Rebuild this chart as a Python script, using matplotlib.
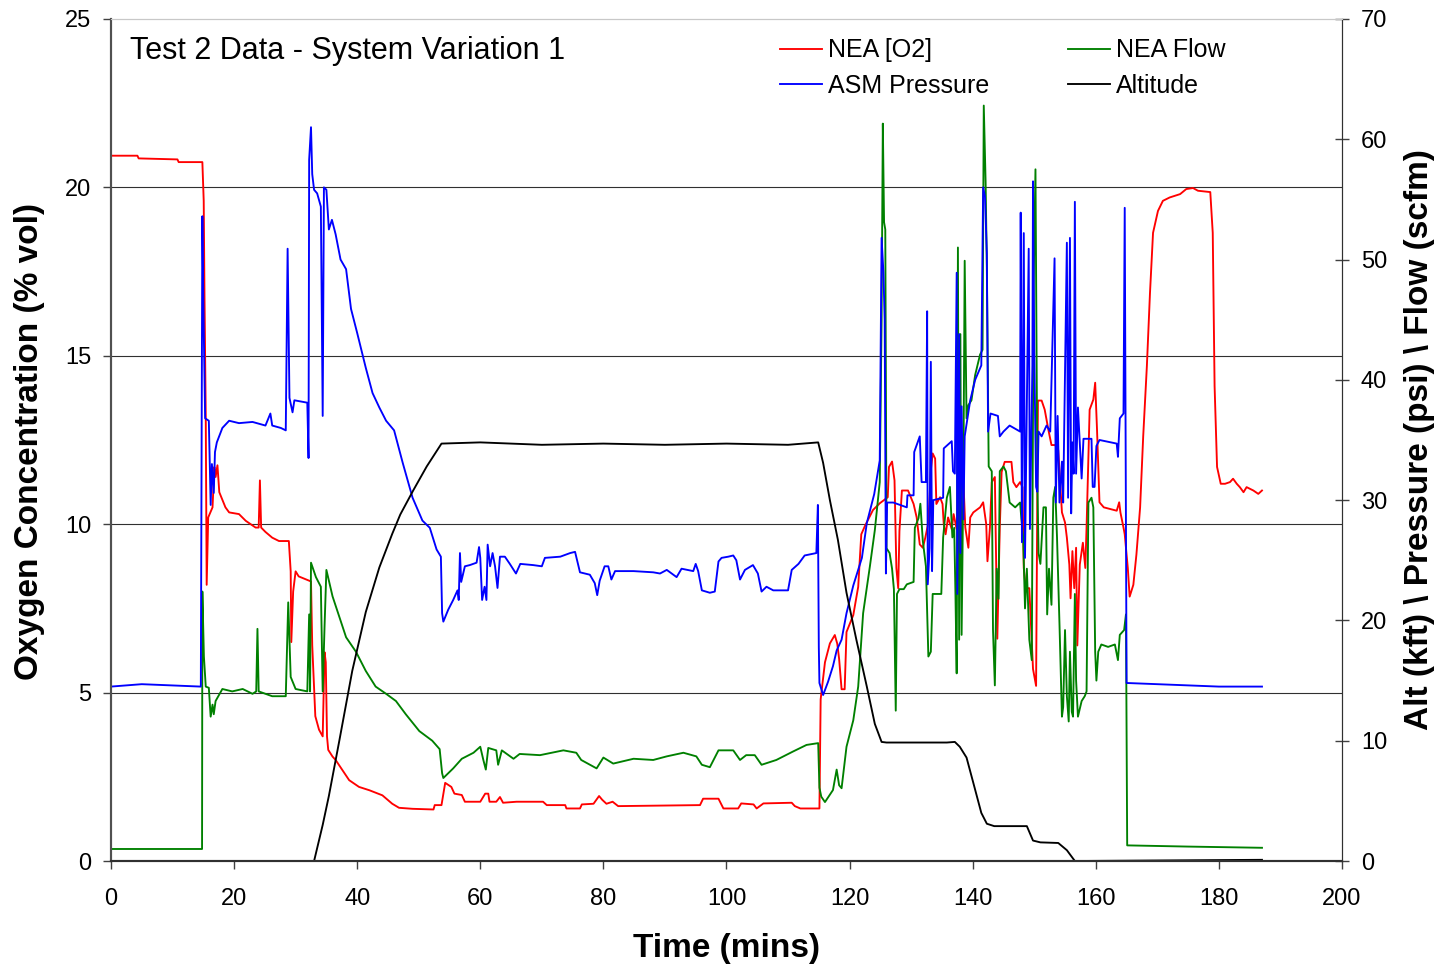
import matplotlib
matplotlib.use("Agg")
import matplotlib.pyplot as plt

plt.rcParams['font.family'] = ['Liberation Sans', 'DejaVu Sans']

# NEA [O2] - left axis (% vol)
o2_t = [0, 4.3, 4.5, 10.8, 11.0, 14.85, 15.07, 15.2, 15.4, 15.55, 15.8, 16.5, 16.8, 17.0, 17.3, 17.6,
        18.6, 19.2, 20.8, 21.9, 22.7, 23.5, 24.0, 24.2, 24.4, 25.1, 26.2, 27.3, 28.9, 29.2, 29.3, 29.6,
        30.0, 30.5, 31.7, 32.5, 32.7, 33.2, 33.8, 34.4, 34.7, 34.9, 35.1, 35.3, 36.0, 36.5, 37.6, 38.7,
        40.3, 42.0, 44.1, 45.7, 46.8, 49.0, 52.4, 52.6, 53.7, 54.3, 55.3, 55.8, 57.0, 57.5, 60.0, 60.8,
        61.3, 61.5, 62.6, 63.2, 63.7, 65.9, 70.2, 70.8, 73.8, 74.0, 76.2, 76.5, 78.4, 79.3, 79.8, 80.5,
        81.5, 82.4, 95.7, 96.2, 98.7, 99.5, 101.9, 102.4, 104.4, 104.9, 106.0, 110.6, 111.1, 112.0, 115.1,
        115.3, 116.0, 116.8, 117.6, 118.0, 118.3, 118.7, 119.2, 119.5, 120.6, 121.4, 121.9, 122.5, 123.8,
        124.9, 126.2, 126.4, 126.9, 127.3, 127.6, 127.9, 128.1, 128.5, 129.5, 130.4, 130.9, 131.4, 131.9,
        132.3, 132.8, 133.2, 133.5, 133.9, 134.1, 134.7, 135.1, 135.3, 135.6, 136.0, 136.6, 136.9, 137.4,
        137.9, 138.5, 138.8, 139.3, 139.6, 140.1, 141.2, 141.7, 142.2, 142.4, 142.8, 143.1, 143.6, 144.0,
        144.4, 144.7, 145.2, 146.3, 146.6, 147.1, 147.7, 148.1, 148.3, 148.6, 149.2, 149.8, 150.3, 150.6,
        151.2, 151.7, 152.3, 152.8, 153.4, 153.9, 154.5, 155.0, 155.3, 155.7, 155.9, 156.2, 156.5, 156.8,
        157.0, 157.4, 157.9, 158.3, 158.5, 159.0, 159.6, 159.9, 160.2, 160.6, 161.3, 163.4, 163.8, 164.0,
        164.5, 164.7, 165.2, 165.5, 166.1, 166.6, 167.2, 167.7, 168.3, 168.8, 169.3, 170.1, 170.9, 172.0,
        173.7, 174.7, 175.8, 176.6, 178.6, 179.0, 179.3, 179.7, 180.3, 181.0, 181.8, 182.3, 182.9, 183.4,
        184.0, 184.5, 185.6, 186.4, 187.0]
o2_v = [20.94, 20.94, 20.86, 20.83, 20.75, 20.75, 19.6, 16.7, 13.2, 8.2, 10.2, 10.5, 11.7, 11.4, 11.75, 10.95,
        10.5, 10.35, 10.3, 10.1, 10.0, 9.9, 9.9, 11.3, 9.9, 9.77, 9.6, 9.5, 9.5, 8.6, 6.5, 8.0,
        8.6, 8.45, 8.36, 8.3, 6.4, 4.3, 3.9, 3.7, 6.2, 5.9, 3.7, 3.3, 3.1, 3.0, 2.7, 2.4,
        2.2, 2.1, 1.95, 1.7, 1.58, 1.55, 1.53, 1.66, 1.66, 2.32, 2.2, 2.0, 1.96, 1.76, 1.76, 2.0,
        2.0, 1.76, 1.76, 1.9, 1.73, 1.76, 1.76, 1.66, 1.66, 1.56, 1.56, 1.68, 1.7, 1.93, 1.82, 1.7,
        1.76, 1.63, 1.66, 1.85, 1.85, 1.56, 1.56, 1.71, 1.68, 1.56, 1.71, 1.73, 1.63, 1.56, 1.56,
        4.8, 5.9, 6.46, 6.71, 6.45, 6.0, 5.1, 5.1, 6.8, 7.3, 8.14, 9.7, 9.95, 10.42,
        10.62, 10.8, 11.7, 11.86, 11.3, 8.7, 8.1, 9.8, 11.0, 11.0, 10.6, 10.2, 9.4, 9.3,
        9.6, 10.05, 11.6, 12.1, 11.95, 10.6, 10.8, 10.6, 10.0, 9.7, 10.2, 9.85, 10.3, 9.85,
        11.55, 11.25, 9.9, 9.3, 10.2, 10.35, 10.5, 10.65, 10.0, 8.9, 9.9, 11.25, 11.4, 6.6,
        9.9, 11.55, 11.85, 11.85, 11.25, 11.1, 11.25, 11.1, 8.7, 8.1, 8.1, 5.7, 5.2, 13.67,
        13.67, 13.4, 12.8, 12.35, 12.35, 12.2, 10.35, 10.05, 9.6, 8.8, 7.8, 9.2, 8.1, 9.3,
        6.4, 8.8, 9.45, 8.7, 9.9, 13.4, 13.7, 14.2, 12.8, 10.65, 10.5, 10.4, 10.65, 10.35,
        9.9, 9.7, 8.7, 7.85, 8.2, 9.1, 10.5, 12.6, 14.7, 16.85, 18.65, 19.3, 19.6, 19.7,
        19.8, 19.95, 19.98, 19.9, 19.86, 18.65, 14.1, 11.7, 11.2, 11.2, 11.25, 11.35, 11.2, 11.1,
        10.95, 11.1, 11.0, 10.9, 11.0]

# ASM Pressure - right axis (psi)
press_t = [0, 5, 10, 14.6, 14.85, 15.0, 15.3, 15.9, 16.2, 16.4, 16.7, 16.9, 17.2, 18.1, 19.2, 20.8,
           23.0, 25.1, 25.9, 26.2, 27.6, 28.4, 28.7, 29.0, 29.5, 29.8, 31.9, 32.1, 32.2, 32.5, 32.7, 33.0,
           33.5, 34.1, 34.4, 34.6, 35.0, 35.4, 35.9, 36.5, 37.3, 38.2, 39.0, 40.0, 41.4, 42.5, 43.6, 44.7,
           46.0, 47.4, 49.0, 50.6, 51.8, 52.9, 53.6, 53.8, 54.0, 54.8, 55.6, 56.3, 56.5, 56.7, 56.9, 57.5,
           58.3, 59.4, 59.8, 60.0, 60.3, 60.7, 61.0, 61.2, 61.6, 62.0, 62.4, 62.8, 63.2, 64.0, 64.8, 65.8,
           66.5, 68.6, 70.0, 70.5, 73.0, 74.6, 75.4, 76.2, 77.8, 78.6, 79.0, 79.4, 80.2, 80.8, 81.3, 81.9,
           84.9, 88.1, 89.2, 90.3, 91.9, 92.7, 94.6, 95.0, 95.4, 96.0, 97.3, 98.1, 98.7, 99.2, 100.3, 101.1,
           101.6, 102.2, 103.0, 104.3, 105.1, 105.7, 106.5, 107.6, 110.0, 110.6, 111.7, 112.7, 114.6, 114.85,
           115.0, 115.1, 115.7, 116.5, 117.3, 117.9, 118.7, 119.5, 120.6, 122.0, 122.8, 124.0, 124.9, 125.2,
           125.5, 125.7, 125.9, 126.1, 127.1, 129.3, 129.4, 130.4, 130.5, 131.4, 131.7, 132.4, 132.6, 132.7,
           133.0, 133.2, 133.4, 133.6, 135.2, 135.3, 136.6, 136.8, 137.1, 137.4, 137.5, 137.8, 138.0, 138.2,
           138.5, 138.7, 139.6, 140.4, 141.4, 141.7, 142.0, 142.3, 142.5, 142.9, 144.1, 144.4, 145.0, 146.0,
           147.7, 147.8, 148.0, 148.3, 148.5, 149.1, 149.3, 149.7, 149.8, 150.0, 150.3, 150.5, 150.7, 151.2,
           152.0, 152.6, 153.3, 153.5, 153.8, 154.1, 154.5, 154.7, 155.3, 155.5, 155.8, 156.0, 156.2, 156.4,
           156.6, 156.8, 157.1, 157.4, 157.7, 158.0, 159.3, 159.5, 159.8, 160.1, 160.6, 163.4, 163.6, 163.9,
           164.5, 164.7, 165.0, 170, 175, 180, 187.0]
press_v = [14.5, 14.7, 14.6, 14.5, 53.6, 46.7, 36.8, 36.6, 29.6, 33.0, 30.6, 34.0, 34.8, 36.0, 36.6, 36.4,
           36.5, 36.2, 37.2, 36.2, 36.0, 35.8, 50.9, 38.5, 37.3, 38.3, 38.1, 33.5, 58.3, 61.0, 57.1, 55.8,
           55.5, 54.4, 37.0, 56.0, 55.8, 52.5, 53.3, 52.1, 50.0, 49.2, 45.9, 43.9, 41.0, 38.9, 37.7, 36.6,
           35.8, 33.1, 30.2, 28.3, 27.7, 25.9, 25.3, 20.6, 19.9, 20.9, 21.7, 22.5, 21.7, 25.6, 23.2, 24.5,
           24.6, 24.8, 26.1, 25.2, 21.7, 22.8, 21.7, 26.3, 24.5, 25.6, 24.5, 22.7, 25.3, 25.3, 24.7, 23.9,
           24.7, 24.6, 24.5, 25.2, 25.3, 25.6, 25.7, 24.0, 23.8, 23.1, 22.1, 23.3, 24.5, 24.5, 23.4, 24.1,
           24.1, 24.0, 23.9, 24.2, 23.6, 24.3, 24.1, 24.7, 24.1, 22.5, 22.3, 22.4, 24.9, 25.2, 25.3, 25.4,
           25.0, 23.4, 24.2, 24.6, 23.9, 22.4, 22.8, 22.5, 22.5, 24.2, 24.7, 25.4, 25.6, 29.6,
           17.8, 14.8, 13.8, 14.9, 16.2, 17.5, 18.4, 20.6, 22.9, 25.2, 28.1, 30.5, 33.3, 51.8,
           48.9, 45.0, 23.9, 29.8, 29.8, 29.4, 30.4, 30.4, 34.0, 35.3, 31.5, 31.5, 45.7, 23.0,
           26.0, 41.5, 24.1, 30.0, 30.2, 34.3, 34.9, 32.4, 32.2, 48.9, 22.2, 43.8, 25.6, 37.8,
           28.4, 35.3, 38.3, 40.0, 41.2, 56.0, 55.2, 50.5, 35.7, 37.2, 37.0, 35.3, 35.7, 36.2,
           35.7, 53.9, 26.5, 52.2, 25.2, 50.9, 27.6, 41.2, 56.5, 42.4, 31.1, 30.7, 35.7, 35.3,
           36.2, 35.7, 50.1, 29.8, 37.0, 29.8, 33.2, 29.8, 51.4, 30.2, 51.8, 28.9, 34.8, 32.2,
           54.8, 32.2, 37.7, 34.8, 31.8, 35.1, 35.1, 31.1, 31.1, 34.5, 35.0, 34.7, 33.6, 36.8,
           37.2, 54.3, 14.8, 14.7, 14.6, 14.5, 14.5]

# NEA Flow - right axis (scfm)
flow_t = [0, 14.8, 14.85, 15.1, 15.4, 15.9, 16.2, 16.5, 16.7, 17.0, 18.1, 19.7, 21.4, 23.0, 23.6, 23.8,
          24.0, 25.1, 26.2, 28.4, 28.8, 29.2, 30.0, 31.9, 32.2, 32.35, 32.5, 33.3, 34.1, 34.4, 34.7, 35.0,
          36.0, 37.1, 38.2, 39.8, 41.4, 43.0, 44.7, 46.3, 47.9, 50.1, 52.2, 53.4, 53.8, 54.0, 55.6, 57.0,
          58.9, 60.0, 60.5, 60.9, 61.3, 62.6, 62.9, 63.5, 65.4, 66.4, 69.7, 73.5, 75.6, 76.4, 78.9, 80.0,
          81.6, 84.9, 88.1, 90.3, 93.0, 95.1, 96.0, 97.3, 98.7, 101.1, 102.2, 103.2, 104.6, 105.7, 108.1, 110.8,
          113.0, 114.9, 115.1, 115.4, 116.0, 117.3, 117.9, 118.3, 118.7, 119.5, 120.6, 121.4, 122.2, 123.3,
          124.1, 124.9, 125.2, 125.4, 125.6, 125.8, 126.0, 126.5, 126.9, 127.2, 127.5, 127.7, 128.1, 128.8,
          129.3, 130.4, 130.6, 131.2, 131.5, 131.9, 132.4, 132.8, 133.2, 133.5, 134.9, 135.2, 135.8, 136.3,
          136.7, 137.0, 137.2, 137.4, 137.6, 137.8, 138.0, 138.2, 138.5, 138.7, 139.0, 139.3, 139.8, 140.4,
          141.2, 141.6, 141.8, 142.1, 142.3, 142.6, 143.1, 143.3, 143.6, 143.9, 144.2, 144.4, 145.0, 145.4,
          146.0, 146.9, 147.7, 147.9, 148.2, 148.5, 148.8, 149.2, 149.6, 149.9, 150.2, 150.5, 150.7, 151.0,
          151.5, 151.9, 152.1, 152.4, 152.8, 153.1, 153.4, 153.7, 154.1, 154.5, 154.7, 155.0, 155.3, 155.6,
          155.8, 156.1, 156.3, 156.6, 156.8, 157.1, 157.7, 158.2, 158.5, 158.8, 159.3, 159.6, 159.9, 160.1,
          160.4, 160.9, 162.0, 163.1, 163.6, 163.9, 164.6, 164.9, 165.1, 175, 187.0]
flow_v = [1.0, 1.0, 22.4, 17.0, 14.5, 14.4, 12.0, 13.0, 12.2, 13.3, 14.3, 14.1, 14.3, 13.9, 14.1, 19.3,
          14.1, 13.9, 13.7, 13.7, 21.5, 15.3, 14.3, 14.1, 20.5, 14.1, 24.8, 23.6, 22.8, 14.1, 19.5, 24.2,
          22.0, 20.3, 18.6, 17.4, 15.8, 14.5, 13.9, 13.3, 12.2, 10.8, 10.0, 9.3, 7.3, 6.9, 7.7, 8.5,
          9.0, 9.5, 8.4, 7.6, 9.4, 9.2, 8.0, 9.2, 8.5, 8.9, 8.8, 9.2, 9.0, 8.4, 7.7, 8.6,
          8.1, 8.5, 8.4, 8.7, 9.0, 8.7, 8.0, 7.8, 9.2, 9.2, 8.4, 8.8, 8.8, 8.0, 8.4, 9.1,
          9.65, 9.8, 6.1, 5.35, 4.9, 5.9, 7.6, 6.3, 6.05, 9.5, 11.7, 14.5, 20.6, 24.5,
          27.5, 31.5, 45.0, 61.3, 53.1, 52.5, 26.0, 25.6, 24.3, 22.6, 12.5, 22.2, 22.6, 22.6,
          23.0, 23.2, 27.7, 28.5, 29.7, 26.6, 24.5, 17.0, 17.4, 22.2, 22.2, 26.9, 30.2, 31.1,
          26.9, 27.7, 22.2, 15.6, 51.0, 18.4, 43.8, 18.8, 32.8, 49.9, 36.8, 37.9, 38.3, 40.4,
          42.1, 42.5, 62.8, 56.4, 49.2, 32.8, 32.4, 19.2, 14.6, 24.3, 21.8, 32.4, 32.8, 32.4,
          29.8, 29.4, 29.8, 28.5, 26.9, 21.0, 24.3, 18.4, 16.7, 48.0, 57.5, 31.8, 25.6, 24.7,
          29.4, 29.4, 20.5, 24.3, 21.3, 30.2, 31.1, 26.9, 19.7, 12.0, 12.8, 19.2, 13.7, 11.6,
          17.4, 12.4, 12.0, 22.2, 15.0, 12.0, 13.3, 13.7, 14.1, 29.8, 30.2, 29.4, 17.4, 15.0,
          17.4, 18.0, 17.8, 18.0, 16.7, 18.8, 19.2, 20.5, 1.3, 1.2, 1.1]

# Altitude - right axis (kft)
alt_t = [0, 33.0, 34.4, 35.4, 37.1, 39.2, 41.4, 43.6, 45.7, 47.0, 49.1, 51.3, 53.7, 60, 70, 80, 90,
         100, 110, 114.9, 115.7, 116.8, 118.1, 119.5, 121.1, 122.8, 124.1, 125.2, 126, 135.8, 137.1,
         137.9, 139.0, 140.1, 141.4, 142.3, 143.5, 148.8, 149.8, 151, 153.9, 155.3, 156.6, 187]
alt_v = [0.0, 0.0, 3.0, 5.4, 10.0, 15.8, 20.7, 24.4, 27.2, 28.8, 30.8, 32.8, 34.7, 34.8, 34.6, 34.7, 34.6,
         34.7, 34.6, 34.8, 33.1, 30.0, 26.7, 22.3, 18.4, 14.5, 11.4, 9.9, 9.85, 9.85, 9.9,
         9.5, 8.6, 6.5, 4.0, 3.1, 2.9, 2.9, 1.7, 1.55, 1.5, 0.9, 0.0, 0.1]

fig = plt.figure(figsize=(14.41, 9.67), dpi=100)
ax = fig.add_axes([0.077, 0.1096, 0.8543, 0.8708])
ax2 = ax.twinx()

lw = 1.35
l_o2, = ax.plot(o2_t, o2_v, color='#ff0000', lw=lw, label='NEA [O2]')
l_flow, = ax2.plot(flow_t, flow_v, color='#008000', lw=lw, label='NEA Flow')
l_press, = ax2.plot(press_t, press_v, color='#0000ff', lw=lw, label='ASM Pressure')
l_alt, = ax2.plot(alt_t, alt_v, color='black', lw=lw, label='Altitude')

ax.set_xlim(0, 200)
ax.set_ylim(0, 25)
ax2.set_ylim(0, 70)
ax.set_xticks(range(0, 201, 20))
ax.set_yticks(range(0, 26, 5))
ax2.set_yticks(range(0, 71, 10))

for y in [5, 10, 15, 20]:
    ax.axhline(y, color='#303030', lw=0.8, zorder=0)

ax.tick_params(axis='x', direction='out', length=6, width=1, labelsize=17, pad=13.5, color='#404040')
ax.tick_params(axis='y', direction='out', length=6, width=1, labelsize=17, pad=8, color='#404040')
ax2.tick_params(axis='y', direction='inout', length=10, width=1, labelsize=17, pad=8.5, color='#404040')

for a in (ax, ax2):
    a.spines['left'].set_color('#505050')
    a.spines['left'].set_linewidth(1.5)
    a.spines['bottom'].set_color('#303030')
    a.spines['bottom'].set_linewidth(1.5)
    a.spines['right'].set_color('#303030')
    a.spines['top'].set_color('#c8c8c8')

ax.text(0.0154, 0.962, 'Test 2 Data - System Variation 1', transform=ax.transAxes,
        fontsize=22, va='center', ha='left')

ax2.legend(handles=[l_o2, l_press, l_flow, l_alt], ncol=2, loc='upper left',
           bbox_to_anchor=(0.5435, 0.9768), frameon=False, fontsize=18,
           handlelength=1.68, handletextpad=0.24, columnspacing=3.16,
           labelspacing=0.46, borderpad=0, borderaxespad=0)

fig.text(0.5045, 0.0196, 'Time (mins)', fontsize=24, fontweight='bold', ha='center', va='center')
fig.text(0.0208, 0.5434, 'Oxygen Concentration (% vol)', fontsize=24, fontweight='bold',
         ha='center', va='center', rotation=90)
fig.text(0.9854, 0.545, 'Alt (kft) \\ Pressure (psi) \\ Flow (scfm)', fontsize=24, fontweight='bold',
         ha='center', va='center', rotation=90)

fig.savefig('out.png', dpi=100)
